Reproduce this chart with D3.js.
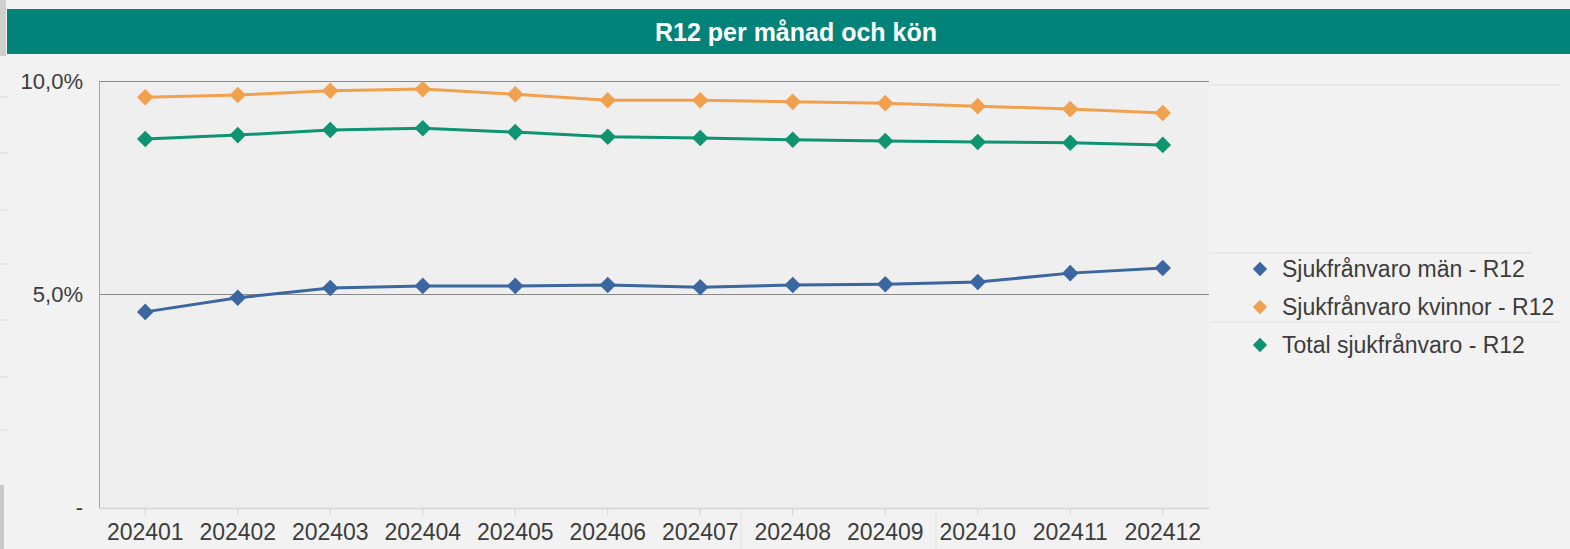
<!DOCTYPE html>
<html lang="sv">
<head>
<meta charset="utf-8">
<title>R12 per månad och kön</title>
<script src="https://cdn.jsdelivr.net/npm/d3@7"></script>
<style>
  html, body { margin: 0; padding: 0; background: #f2f2f2; }
  svg { display: block; font-family: "Liberation Sans", Arial, sans-serif; }
</style>
</head>
<body>
<script>
// data (R12 sjukfrånvaro, andel)
var months = ["202401","202402","202403","202404","202405","202406","202407","202408","202409","202410","202411","202412"];
var man     = [4.58, 4.91, 5.14, 5.19, 5.19, 5.21, 5.16, 5.21, 5.23, 5.28, 5.49, 5.61];
var kvinnor = [9.62, 9.67, 9.77, 9.81, 9.69, 9.55, 9.55, 9.51, 9.48, 9.41, 9.34, 9.25];
var total   = [8.64, 8.73, 8.85, 8.89, 8.80, 8.69, 8.66, 8.62, 8.59, 8.57, 8.55, 8.50];
var yTicks  = [0, 5, 10];
var seriesNames = ["Sjukfrånvaro män - R12", "Sjukfrånvaro kvinnor - R12", "Total sjukfrånvaro - R12"];
var colors = ["#3b66a0", "#f1a14e", "#0e9470"];

var w = 1570, h = 549;
var plot = {left: 99, right: 1209, top: 81, bottom: 507};

var svg = d3.select("body").append("svg")
  .attr("width", w).attr("height", h);

// title bar
svg.append("rect").attr("x", 0).attr("y", 0).attr("width", 6).attr("height", 56).attr("fill", "#cfcfcf");
svg.append("rect").attr("x", 7).attr("y", 9).attr("width", w - 7).attr("height", 45).attr("fill", "#02837a");
svg.append("text")
  .attr("x", 796).attr("y", 32)
  .attr("text-anchor", "middle").attr("dominant-baseline", "central")
  .attr("fill", "#fff").attr("font-weight", "bold").attr("font-size", 25)
  .text("R12 per månad och kön");

// faint leftover table lines at the left edge
[97, 153, 210, 264, 320, 377, 430].forEach(function(y){
  svg.append("line").attr("x1", 0).attr("x2", 8).attr("y1", y).attr("y2", y).attr("stroke", "#dcdcdc");
});
svg.append("rect").attr("x", 0).attr("y", 485).attr("width", 4).attr("height", 64).attr("fill", "#c9c9c9");

// plot background
svg.append("rect")
  .attr("x", plot.left).attr("y", plot.top)
  .attr("width", plot.right - plot.left).attr("height", plot.bottom - plot.top)
  .attr("fill", "#efefef");

var x = d3.scaleBand().domain(months).range([plot.left, plot.right]);
var y = d3.scaleLinear().domain([0, 10]).range([plot.bottom, plot.top]);

// gridlines
svg.append("g").selectAll("line").data([5, 10]).enter().append("line")
  .attr("x1", plot.left).attr("x2", plot.right)
  .attr("y1", function(d){ return y(d) + 0.5; })
  .attr("y2", function(d){ return y(d) + 0.5; })
  .attr("stroke", "#8a8a8a").attr("stroke-width", 1.2);

// y axis labels
svg.append("g").selectAll("text").data(yTicks).enter().append("text")
  .attr("x", 83).attr("y", function(d){ return y(d); })
  .attr("text-anchor", "end").attr("dominant-baseline", "central")
  .attr("font-size", 22).attr("fill", "#3c3c3c")
  .text(function(d){ return d === 0 ? "-" : d3.format(".1f")(d).replace(".", ",") + "%"; });

// left axis line
svg.append("line").attr("x1", plot.left + 0.5).attr("x2", plot.left + 0.5)
  .attr("y1", plot.top).attr("y2", plot.bottom + 1).attr("stroke", "#a8a8a8");

// x axis
var xAxis = svg.append("g")
  .attr("transform", "translate(0," + (plot.bottom + 1) + ")")
  .call(d3.axisBottom(x).tickSize(7).tickSizeOuter(0));
xAxis.select(".domain").attr("stroke", "#d2d2d2").attr("stroke-width", 1.5);
xAxis.selectAll(".tick line").attr("stroke", "#d0d0d0");
xAxis.selectAll(".tick text")
  .attr("font-family", "'Liberation Sans', Arial, sans-serif")
  .attr("font-size", 23).attr("fill", "#3c3c3c").attr("dy", "0.95em");

// faint vertical artifacts below axis
[741, 936].forEach(function(xx){
  svg.append("line").attr("x1", xx).attr("x2", xx).attr("y1", plot.bottom + 2).attr("y2", h).attr("stroke", "#e2e2e2");
});

// series
var all = [man, kvinnor, total];
var line = d3.line()
  .x(function(d, i){ return x(months[i]) + x.bandwidth() / 2; })
  .y(function(d){ return y(d); });
var diamond = d3.symbol().type(d3.symbolDiamond2).size(175);

all.forEach(function(vals, s){
  var g = svg.append("g");
  g.append("path").datum(vals)
    .attr("d", line).attr("fill", "none")
    .attr("stroke", colors[s]).attr("stroke-width", 3);
  g.selectAll("path.pt").data(vals).enter().append("path")
    .attr("class", "pt")
    .attr("d", diamond)
    .attr("transform", function(d, i){ return "translate(" + (x(months[i]) + x.bandwidth() / 2) + "," + y(d) + ")"; })
    .attr("fill", colors[s]);
});

// legend
[[85, 1560], [253, 1532], [322, 1560]].forEach(function(l){
  svg.append("line").attr("x1", 1210).attr("x2", l[1]).attr("y1", l[0]).attr("y2", l[0]).attr("stroke", "#e4e4e4").attr("stroke-width", 1.5);
});
var leg = svg.append("g").selectAll("g").data(seriesNames).enter().append("g")
  .attr("transform", function(d, i){ return "translate(1260," + (269 + i * 38) + ")"; });
leg.append("path").attr("d", d3.symbol().type(d3.symbolDiamond2).size(130)).attr("fill", function(d, i){ return colors[i]; });
leg.append("text")
  .attr("x", 22).attr("y", 0).attr("dominant-baseline", "central")
  .attr("font-size", 23).attr("fill", "#3c3c3c")
  .text(function(d){ return d; });
</script>
</body>
</html>
